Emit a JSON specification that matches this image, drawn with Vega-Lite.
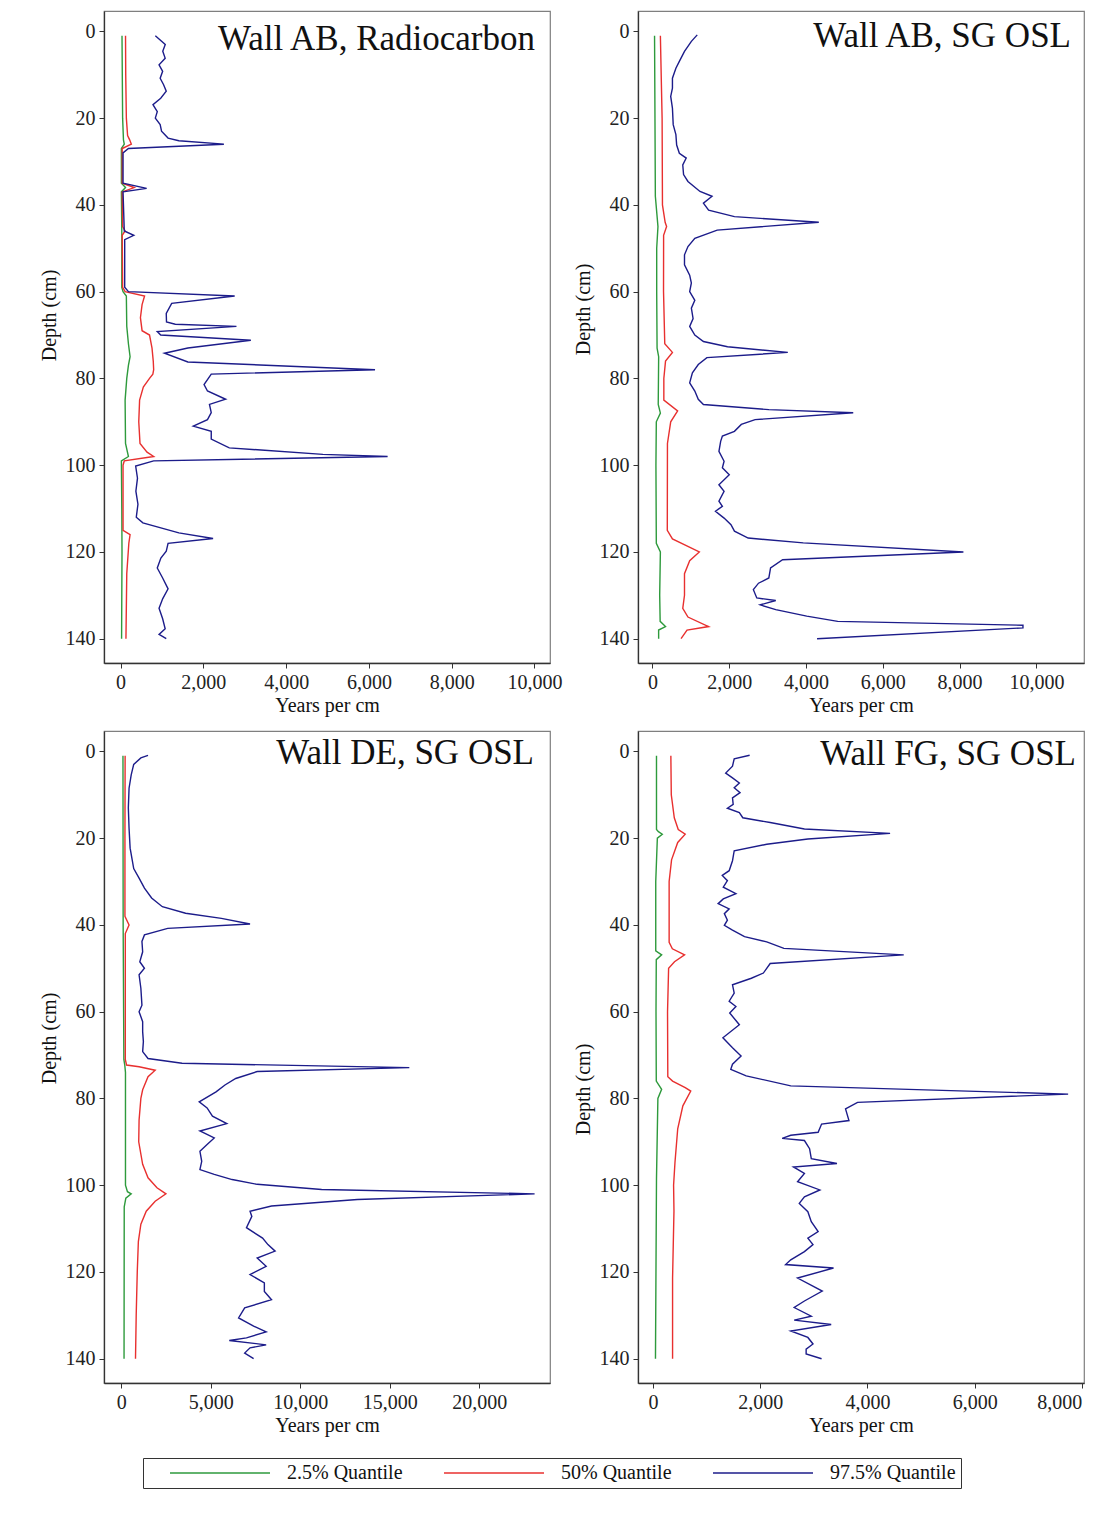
{
  "$schema": "https://vega.github.io/schema/vega-lite/v6.json",
  "background": "white",
  "padding": {"left": 38, "top": 10, "right": 5, "bottom": 5},
  "datasets": {
    "p1": [
      {"q":"2.5%","d":1,"v":35},{"q":"2.5%","d":20,"v":50},{"q":"2.5%","d":25,"v":70},{"q":"2.5%","d":26,"v":90},{"q":"2.5%","d":27,"v":20},{"q":"2.5%","d":35,"v":20},{"q":"2.5%","d":36,"v":120},{"q":"2.5%","d":37,"v":20},{"q":"2.5%","d":46,"v":30},{"q":"2.5%","d":59,"v":30},{"q":"2.5%","d":60,"v":60},{"q":"2.5%","d":61,"v":140},{"q":"2.5%","d":68,"v":150},{"q":"2.5%","d":72,"v":190},{"q":"2.5%","d":75,"v":230},{"q":"2.5%","d":77,"v":190},{"q":"2.5%","d":80,"v":150},{"q":"2.5%","d":85,"v":110},{"q":"2.5%","d":95,"v":120},{"q":"2.5%","d":98,"v":190},{"q":"2.5%","d":99,"v":20},{"q":"2.5%","d":110,"v":30},{"q":"2.5%","d":120,"v":35},{"q":"2.5%","d":140,"v":25},
      {"q":"50%","d":1,"v":120},{"q":"50%","d":10,"v":125},{"q":"50%","d":20,"v":140},{"q":"50%","d":24,"v":170},{"q":"50%","d":25,"v":220},{"q":"50%","d":26,"v":260},{"q":"50%","d":27,"v":40},{"q":"50%","d":35,"v":40},{"q":"50%","d":36,"v":330},{"q":"50%","d":37,"v":40},{"q":"50%","d":45,"v":50},{"q":"50%","d":46,"v":110},{"q":"50%","d":47,"v":40},{"q":"50%","d":59,"v":50},{"q":"50%","d":60,"v":110},{"q":"50%","d":61,"v":580},{"q":"50%","d":63,"v":520},{"q":"50%","d":66,"v":480},{"q":"50%","d":69,"v":520},{"q":"50%","d":70,"v":700},{"q":"50%","d":73,"v":760},{"q":"50%","d":76,"v":790},{"q":"50%","d":78,"v":800},{"q":"50%","d":79,"v":780},{"q":"50%","d":80,"v":700},{"q":"50%","d":82,"v":550},{"q":"50%","d":85,"v":460},{"q":"50%","d":90,"v":440},{"q":"50%","d":95,"v":470},{"q":"50%","d":97,"v":640},{"q":"50%","d":98,"v":800},{"q":"50%","d":99,"v":90},{"q":"50%","d":100,"v":60},{"q":"50%","d":115,"v":60},{"q":"50%","d":116,"v":230},{"q":"50%","d":118,"v":200},{"q":"50%","d":125,"v":150},{"q":"50%","d":140,"v":130},
      {"q":"97.5%","d":1,"v":840},{"q":"97.5%","d":3,"v":1080},{"q":"97.5%","d":4.6,"v":1020},{"q":"97.5%","d":6.2,"v":1078},{"q":"97.5%","d":7.7,"v":930},{"q":"97.5%","d":9.2,"v":1017},{"q":"97.5%","d":10.8,"v":957},{"q":"97.5%","d":12.3,"v":1040},{"q":"97.5%","d":13.8,"v":1104},{"q":"97.5%","d":15.4,"v":970},{"q":"97.5%","d":16.9,"v":783},{"q":"97.5%","d":18.5,"v":887},{"q":"97.5%","d":20,"v":840},{"q":"97.5%","d":21.5,"v":957},{"q":"97.5%","d":23,"v":990},{"q":"97.5%","d":24.6,"v":1148},{"q":"97.5%","d":25.2,"v":1409},{"q":"97.5%","d":26,"v":2496},{"q":"97.5%","d":27,"v":190},{"q":"97.5%","d":28,"v":60},{"q":"97.5%","d":35,"v":60},{"q":"97.5%","d":36.2,"v":630},{"q":"97.5%","d":37,"v":60},{"q":"97.5%","d":46,"v":90},{"q":"97.5%","d":47,"v":320},{"q":"97.5%","d":48,"v":100},{"q":"97.5%","d":59,"v":100},{"q":"97.5%","d":60,"v":190},{"q":"97.5%","d":61,"v":2757},{"q":"97.5%","d":62.7,"v":1235},{"q":"97.5%","d":65,"v":1104},{"q":"97.5%","d":67,"v":1110},{"q":"97.5%","d":67.5,"v":1322},{"q":"97.5%","d":68,"v":2800},{"q":"97.5%","d":69.2,"v":887},{"q":"97.5%","d":70,"v":970},{"q":"97.5%","d":71.2,"v":3148},{"q":"97.5%","d":73,"v":1626},{"q":"97.5%","d":74.2,"v":1061},{"q":"97.5%","d":76.2,"v":1626},{"q":"97.5%","d":78,"v":6148},{"q":"97.5%","d":79,"v":2191},{"q":"97.5%","d":81.4,"v":2017},{"q":"97.5%","d":82.9,"v":2100},{"q":"97.5%","d":84.8,"v":2539},{"q":"97.5%","d":86,"v":2148},{"q":"97.5%","d":87.9,"v":2191},{"q":"97.5%","d":89.5,"v":2100},{"q":"97.5%","d":91,"v":1757},{"q":"97.5%","d":92.2,"v":2191},{"q":"97.5%","d":94,"v":2191},{"q":"97.5%","d":96,"v":2626},{"q":"97.5%","d":97.5,"v":4887},{"q":"97.5%","d":98,"v":6452},{"q":"97.5%","d":99,"v":800},{"q":"97.5%","d":100.2,"v":365},{"q":"97.5%","d":103,"v":409},{"q":"97.5%","d":106,"v":370},{"q":"97.5%","d":109,"v":420},{"q":"97.5%","d":112,"v":380},{"q":"97.5%","d":113.3,"v":539},{"q":"97.5%","d":115.6,"v":1409},{"q":"97.5%","d":116.9,"v":2235},{"q":"97.5%","d":118,"v":1148},{"q":"97.5%","d":119.8,"v":1104},{"q":"97.5%","d":121.4,"v":974},{"q":"97.5%","d":123.7,"v":887},{"q":"97.5%","d":126,"v":1017},{"q":"97.5%","d":128.5,"v":1148},{"q":"97.5%","d":130.8,"v":1017},{"q":"97.5%","d":133,"v":930},{"q":"97.5%","d":135.4,"v":1017},{"q":"97.5%","d":137.7,"v":1078},{"q":"97.5%","d":139,"v":930},{"q":"97.5%","d":140,"v":1104}
    ],
    "p2": [
      {"q":"2.5%","d":1,"v":54},{"q":"2.5%","d":20,"v":65},{"q":"2.5%","d":38,"v":75},{"q":"2.5%","d":45,"v":143},{"q":"2.5%","d":50,"v":110},{"q":"2.5%","d":60,"v":110},{"q":"2.5%","d":73,"v":120},{"q":"2.5%","d":75,"v":161},{"q":"2.5%","d":86,"v":150},{"q":"2.5%","d":88,"v":206},{"q":"2.5%","d":90,"v":100},{"q":"2.5%","d":100,"v":90},{"q":"2.5%","d":118,"v":100},{"q":"2.5%","d":120,"v":206},{"q":"2.5%","d":130,"v":188},{"q":"2.5%","d":136,"v":200},{"q":"2.5%","d":137.2,"v":340},{"q":"2.5%","d":138,"v":160},{"q":"2.5%","d":140,"v":161},
      {"q":"50%","d":1,"v":206},{"q":"50%","d":20,"v":251},{"q":"50%","d":40,"v":260},{"q":"50%","d":44,"v":330},{"q":"50%","d":45,"v":368},{"q":"50%","d":47,"v":290},{"q":"50%","d":60,"v":288},{"q":"50%","d":72,"v":320},{"q":"50%","d":74,"v":520},{"q":"50%","d":76,"v":340},{"q":"50%","d":80,"v":296},{"q":"50%","d":85,"v":296},{"q":"50%","d":87.5,"v":655},{"q":"50%","d":90,"v":475},{"q":"50%","d":95,"v":390},{"q":"50%","d":115,"v":386},{"q":"50%","d":117,"v":520},{"q":"50%","d":120,"v":1220},{"q":"50%","d":122,"v":969},{"q":"50%","d":125,"v":834},{"q":"50%","d":130,"v":834},{"q":"50%","d":133,"v":789},{"q":"50%","d":135,"v":924},{"q":"50%","d":137.2,"v":1462},{"q":"50%","d":138,"v":900},{"q":"50%","d":140,"v":744},
      {"q":"97.5%","d":0.8,"v":1166},{"q":"97.5%","d":2.3,"v":1013},{"q":"97.5%","d":4.6,"v":834},{"q":"97.5%","d":6.9,"v":700},{"q":"97.5%","d":8.5,"v":610},{"q":"97.5%","d":10.8,"v":520},{"q":"97.5%","d":13.1,"v":520},{"q":"97.5%","d":15,"v":475},{"q":"97.5%","d":17.7,"v":520},{"q":"97.5%","d":21.5,"v":540},{"q":"97.5%","d":23.8,"v":610},{"q":"97.5%","d":26.2,"v":630},{"q":"97.5%","d":28.1,"v":700},{"q":"97.5%","d":29.2,"v":879},{"q":"97.5%","d":30.8,"v":789},{"q":"97.5%","d":33,"v":810},{"q":"97.5%","d":34.6,"v":924},{"q":"97.5%","d":36.9,"v":1238},{"q":"97.5%","d":38,"v":1552},{"q":"97.5%","d":39.6,"v":1327},{"q":"97.5%","d":41.2,"v":1462},{"q":"97.5%","d":42.7,"v":2135},{"q":"97.5%","d":44,"v":4332},{"q":"97.5%","d":45.8,"v":1686},{"q":"97.5%","d":47.7,"v":1103},{"q":"97.5%","d":49.6,"v":924},{"q":"97.5%","d":51.5,"v":834},{"q":"97.5%","d":53.8,"v":834},{"q":"97.5%","d":56.2,"v":969},{"q":"97.5%","d":58,"v":1013},{"q":"97.5%","d":60,"v":969},{"q":"97.5%","d":62,"v":1103},{"q":"97.5%","d":63.8,"v":1013},{"q":"97.5%","d":66.2,"v":1058},{"q":"97.5%","d":68,"v":969},{"q":"97.5%","d":70,"v":1103},{"q":"97.5%","d":71.5,"v":1327},{"q":"97.5%","d":72.7,"v":1955},{"q":"97.5%","d":74,"v":3525},{"q":"97.5%","d":75.2,"v":1417},{"q":"97.5%","d":76.8,"v":1193},{"q":"97.5%","d":78.7,"v":1040},{"q":"97.5%","d":81,"v":969},{"q":"97.5%","d":82.9,"v":1103},{"q":"97.5%","d":84.8,"v":1193},{"q":"97.5%","d":86,"v":1327},{"q":"97.5%","d":87.2,"v":3031},{"q":"97.5%","d":87.9,"v":5229},{"q":"97.5%","d":89.5,"v":2673},{"q":"97.5%","d":90.6,"v":2314},{"q":"97.5%","d":92.2,"v":2135},{"q":"97.5%","d":93.3,"v":1821},{"q":"97.5%","d":94.5,"v":1776},{"q":"97.5%","d":96.8,"v":1731},{"q":"97.5%","d":99.1,"v":1865},{"q":"97.5%","d":100.6,"v":1821},{"q":"97.5%","d":102.2,"v":2000},{"q":"97.5%","d":104.5,"v":1731},{"q":"97.5%","d":106,"v":1865},{"q":"97.5%","d":108.3,"v":1731},{"q":"97.5%","d":109.5,"v":1821},{"q":"97.5%","d":110.6,"v":1641},{"q":"97.5%","d":112.2,"v":1865},{"q":"97.5%","d":113.7,"v":2045},{"q":"97.5%","d":115.2,"v":2135},{"q":"97.5%","d":116.8,"v":2493},{"q":"97.5%","d":117.9,"v":3928},{"q":"97.5%","d":120,"v":8099},{"q":"97.5%","d":121.8,"v":3390},{"q":"97.5%","d":123.7,"v":3076},{"q":"97.5%","d":126,"v":3031},{"q":"97.5%","d":127.2,"v":2762},{"q":"97.5%","d":128.7,"v":2628},{"q":"97.5%","d":130.6,"v":2717},{"q":"97.5%","d":131.2,"v":3211},{"q":"97.5%","d":132.2,"v":2807},{"q":"97.5%","d":133.3,"v":3211},{"q":"97.5%","d":134.8,"v":4018},{"q":"97.5%","d":136,"v":4825},{"q":"97.5%","d":136.9,"v":9650},{"q":"97.5%","d":137.5,"v":9650},{"q":"97.5%","d":140,"v":4287}
    ],
    "p3": [
      {"q":"2.5%","d":1,"v":100},{"q":"2.5%","d":40,"v":110},{"q":"2.5%","d":71,"v":150},{"q":"2.5%","d":72.3,"v":200},{"q":"2.5%","d":74,"v":240},{"q":"2.5%","d":100,"v":240},{"q":"2.5%","d":101.5,"v":350},{"q":"2.5%","d":102,"v":560},{"q":"2.5%","d":103,"v":260},{"q":"2.5%","d":105,"v":170},{"q":"2.5%","d":140,"v":160},
      {"q":"50%","d":1,"v":220},{"q":"50%","d":20,"v":210},{"q":"50%","d":38,"v":210},{"q":"50%","d":40,"v":440},{"q":"50%","d":42,"v":230},{"q":"50%","d":71,"v":230},{"q":"50%","d":72.3,"v":300},{"q":"50%","d":72.7,"v":1000},{"q":"50%","d":73.5,"v":1900},{"q":"50%","d":75,"v":1500},{"q":"50%","d":78,"v":1200},{"q":"50%","d":80,"v":1100},{"q":"50%","d":85,"v":1000},{"q":"50%","d":90,"v":980},{"q":"50%","d":95.2,"v":1200},{"q":"50%","d":98.3,"v":1500},{"q":"50%","d":100.6,"v":2000},{"q":"50%","d":102,"v":2500},{"q":"50%","d":103.7,"v":1900},{"q":"50%","d":106,"v":1400},{"q":"50%","d":109,"v":1100},{"q":"50%","d":113,"v":960},{"q":"50%","d":119.8,"v":900},{"q":"50%","d":129.8,"v":840},{"q":"50%","d":140,"v":800},
      {"q":"97.5%","d":0.9,"v":1500},{"q":"97.5%","d":1.5,"v":1100},{"q":"97.5%","d":3,"v":700},{"q":"97.5%","d":5.4,"v":560},{"q":"97.5%","d":8.5,"v":440},{"q":"97.5%","d":13,"v":400},{"q":"97.5%","d":17.7,"v":440},{"q":"97.5%","d":22.3,"v":500},{"q":"97.5%","d":27,"v":700},{"q":"97.5%","d":29.2,"v":1000},{"q":"97.5%","d":31.5,"v":1300},{"q":"97.5%","d":33.8,"v":1700},{"q":"97.5%","d":35.8,"v":2300},{"q":"97.5%","d":37.3,"v":3600},{"q":"97.5%","d":38.5,"v":5600},{"q":"97.5%","d":39.8,"v":7200},{"q":"97.5%","d":40.8,"v":2600},{"q":"97.5%","d":42.3,"v":1300},{"q":"97.5%","d":43.8,"v":1160},{"q":"97.5%","d":46.2,"v":1200},{"q":"97.5%","d":48.5,"v":1040},{"q":"97.5%","d":50,"v":1300},{"q":"97.5%","d":51.5,"v":1000},{"q":"97.5%","d":54.6,"v":1100},{"q":"97.5%","d":58.5,"v":1160},{"q":"97.5%","d":60,"v":1000},{"q":"97.5%","d":62.3,"v":1200},{"q":"97.5%","d":64.6,"v":1200},{"q":"97.5%","d":66.9,"v":1240},{"q":"97.5%","d":69.2,"v":1200},{"q":"97.5%","d":70.8,"v":1500},{"q":"97.5%","d":71.9,"v":3400},{"q":"97.5%","d":72.9,"v":16100},{"q":"97.5%","d":73.8,"v":7600},{"q":"97.5%","d":75.4,"v":6400},{"q":"97.5%","d":76.9,"v":5800},{"q":"97.5%","d":78.5,"v":5300},{"q":"97.5%","d":80.8,"v":4360},{"q":"97.5%","d":82.2,"v":4800},{"q":"97.5%","d":84.1,"v":5100},{"q":"97.5%","d":85.8,"v":5900},{"q":"97.5%","d":87.5,"v":4400},{"q":"97.5%","d":89.1,"v":5200},{"q":"97.5%","d":90.6,"v":4800},{"q":"97.5%","d":92.2,"v":4400},{"q":"97.5%","d":94.5,"v":4500},{"q":"97.5%","d":96.4,"v":4400},{"q":"97.5%","d":97.5,"v":5200},{"q":"97.5%","d":98.7,"v":6200},{"q":"97.5%","d":99.8,"v":7600},{"q":"97.5%","d":101,"v":11200},{"q":"97.5%","d":102,"v":23100},{"q":"97.5%","d":103.3,"v":13200},{"q":"97.5%","d":104.8,"v":8400},{"q":"97.5%","d":106,"v":7200},{"q":"97.5%","d":107.2,"v":7300},{"q":"97.5%","d":109.8,"v":7000},{"q":"97.5%","d":112.2,"v":7900},{"q":"97.5%","d":113.7,"v":8200},{"q":"97.5%","d":115.2,"v":8600},{"q":"97.5%","d":116.8,"v":7600},{"q":"97.5%","d":118.7,"v":8100},{"q":"97.5%","d":120.6,"v":7200},{"q":"97.5%","d":122.5,"v":8000},{"q":"97.5%","d":124.5,"v":8000},{"q":"97.5%","d":126.4,"v":8400},{"q":"97.5%","d":128.3,"v":6900},{"q":"97.5%","d":130.6,"v":6560},{"q":"97.5%","d":132.5,"v":7400},{"q":"97.5%","d":133.8,"v":8100},{"q":"97.5%","d":135.2,"v":7000},{"q":"97.5%","d":135.8,"v":6040},{"q":"97.5%","d":136.8,"v":8100},{"q":"97.5%","d":137.5,"v":7200},{"q":"97.5%","d":138.7,"v":6900},{"q":"97.5%","d":140,"v":7400}
    ],
    "p4": [
      {"q":"2.5%","d":1,"v":64},{"q":"2.5%","d":18,"v":64},{"q":"2.5%","d":18.5,"v":100},{"q":"2.5%","d":19.1,"v":172},{"q":"2.5%","d":20,"v":80},{"q":"2.5%","d":30,"v":50},{"q":"2.5%","d":46,"v":50},{"q":"2.5%","d":46.9,"v":160},{"q":"2.5%","d":48,"v":60},{"q":"2.5%","d":60,"v":55},{"q":"2.5%","d":76,"v":60},{"q":"2.5%","d":77.9,"v":160},{"q":"2.5%","d":80,"v":90},{"q":"2.5%","d":98.5,"v":64},{"q":"2.5%","d":140,"v":45},
      {"q":"50%","d":1,"v":332},{"q":"50%","d":10,"v":340},{"q":"50%","d":15.3,"v":396},{"q":"50%","d":18,"v":470},{"q":"50%","d":19.1,"v":600},{"q":"50%","d":21,"v":460},{"q":"50%","d":25,"v":345},{"q":"50%","d":30,"v":300},{"q":"50%","d":44,"v":300},{"q":"50%","d":45.5,"v":360},{"q":"50%","d":46.9,"v":588},{"q":"50%","d":48.5,"v":400},{"q":"50%","d":50,"v":290},{"q":"50%","d":60,"v":270},{"q":"50%","d":75,"v":275},{"q":"50%","d":76,"v":364},{"q":"50%","d":77.5,"v":600},{"q":"50%","d":78.3,"v":703},{"q":"50%","d":80.2,"v":620},{"q":"50%","d":81.7,"v":556},{"q":"50%","d":87,"v":460},{"q":"50%","d":94.7,"v":409},{"q":"50%","d":100,"v":383},{"q":"50%","d":106,"v":390},{"q":"50%","d":121.4,"v":364},{"q":"50%","d":140,"v":364},
      {"q":"97.5%","d":0.9,"v":1802},{"q":"97.5%","d":1.7,"v":1514},{"q":"97.5%","d":3.4,"v":1482},{"q":"97.5%","d":5,"v":1355},{"q":"97.5%","d":6.1,"v":1482},{"q":"97.5%","d":7.3,"v":1610},{"q":"97.5%","d":8.4,"v":1514},{"q":"97.5%","d":9.5,"v":1623},{"q":"97.5%","d":10.7,"v":1482},{"q":"97.5%","d":12.2,"v":1495},{"q":"97.5%","d":13.1,"v":1387},{"q":"97.5%","d":14.1,"v":1610},{"q":"97.5%","d":15.3,"v":1674},{"q":"97.5%","d":16.4,"v":2185},{"q":"97.5%","d":17.9,"v":2824},{"q":"97.5%","d":18.9,"v":4422},{"q":"97.5%","d":20.2,"v":2888},{"q":"97.5%","d":21.4,"v":2121},{"q":"97.5%","d":22.9,"v":1514},{"q":"97.5%","d":25.2,"v":1482},{"q":"97.5%","d":27.5,"v":1420},{"q":"97.5%","d":28.6,"v":1291},{"q":"97.5%","d":29.8,"v":1387},{"q":"97.5%","d":31.3,"v":1310},{"q":"97.5%","d":32.8,"v":1546},{"q":"97.5%","d":34,"v":1310},{"q":"97.5%","d":35.1,"v":1214},{"q":"97.5%","d":36.3,"v":1420},{"q":"97.5%","d":37.4,"v":1330},{"q":"97.5%","d":38.9,"v":1387},{"q":"97.5%","d":40.1,"v":1330},{"q":"97.5%","d":41.2,"v":1482},{"q":"97.5%","d":42.7,"v":1706},{"q":"97.5%","d":43.9,"v":2121},{"q":"97.5%","d":45.4,"v":2441},{"q":"97.5%","d":46.9,"v":4677},{"q":"97.5%","d":48.9,"v":2185},{"q":"97.5%","d":51.1,"v":2058},{"q":"97.5%","d":52.3,"v":1834},{"q":"97.5%","d":53.8,"v":1482},{"q":"97.5%","d":55.7,"v":1514},{"q":"97.5%","d":57.6,"v":1420},{"q":"97.5%","d":58.8,"v":1546},{"q":"97.5%","d":60.3,"v":1430},{"q":"97.5%","d":63,"v":1610},{"q":"97.5%","d":66,"v":1303},{"q":"97.5%","d":68.3,"v":1482},{"q":"97.5%","d":70.2,"v":1642},{"q":"97.5%","d":72.1,"v":1482},{"q":"97.5%","d":73.3,"v":1450},{"q":"97.5%","d":74.8,"v":1738},{"q":"97.5%","d":77.1,"v":2569},{"q":"97.5%","d":79,"v":7744},{"q":"97.5%","d":80.9,"v":3815},{"q":"97.5%","d":82.4,"v":3591},{"q":"97.5%","d":85.1,"v":3655},{"q":"97.5%","d":85.9,"v":3144},{"q":"97.5%","d":87.8,"v":3080},{"q":"97.5%","d":88.5,"v":2569},{"q":"97.5%","d":89.2,"v":2409},{"q":"97.5%","d":89.7,"v":2824},{"q":"97.5%","d":91.6,"v":2920},{"q":"97.5%","d":93.9,"v":2952},{"q":"97.5%","d":95,"v":3431},{"q":"97.5%","d":95.8,"v":2620},{"q":"97.5%","d":97.3,"v":2824},{"q":"97.5%","d":99.2,"v":2696},{"q":"97.5%","d":101.1,"v":3112},{"q":"97.5%","d":102.7,"v":2824},{"q":"97.5%","d":104.2,"v":2728},{"q":"97.5%","d":106.1,"v":2888},{"q":"97.5%","d":108.4,"v":2952},{"q":"97.5%","d":110.7,"v":3080},{"q":"97.5%","d":112.2,"v":2888},{"q":"97.5%","d":113.7,"v":2984},{"q":"97.5%","d":115.3,"v":2824},{"q":"97.5%","d":117.2,"v":2569},{"q":"97.5%","d":118.3,"v":2473},{"q":"97.5%","d":119.1,"v":3367},{"q":"97.5%","d":121.4,"v":2696},{"q":"97.5%","d":124.4,"v":3157},{"q":"97.5%","d":126.7,"v":2824},{"q":"97.5%","d":128.2,"v":2633},{"q":"97.5%","d":130.2,"v":2952},{"q":"97.5%","d":131.1,"v":2633},{"q":"97.5%","d":132.1,"v":3323},{"q":"97.5%","d":133.6,"v":2569},{"q":"97.5%","d":135.1,"v":2888},{"q":"97.5%","d":136.6,"v":2984},{"q":"97.5%","d":137.8,"v":2856},{"q":"97.5%","d":138.9,"v":2856},{"q":"97.5%","d":140,"v":3144}
    ]
  },
  "columns": 2,
  "spacing": {"row": 68, "column": 88},
  "bounds": "flush",
  "resolve": {"scale": {"color": "shared"}, "legend": {"color": "shared"}},
  "concat": [
    {
      "width": 446, "height": 652,
      "title": {"text": "Wall AB, Radiocarbon", "anchor": "end", "frame": "group", "offset": -46, "dx": -15},
      "data": {"name": "p1"},
      "mark": {"type": "line", "strokeWidth": 1.4},
      "encoding": {
        "x": {"field": "v", "type": "quantitative", "scale": {"domain": [-400, 10375], "nice": false, "zero": false}, "axis": {"values": [0, 2000, 4000, 6000, 8000, 10000], "format": ",.0f", "title": "Years per cm"}},
        "y": {"field": "d", "type": "quantitative", "scale": {"domain": [-4.7, 145.6], "reverse": true, "nice": false, "zero": false}, "axis": {"values": [0, 20, 40, 60, 80, 100, 120, 140], "title": "Depth (cm)", "titleY": 304}},
        "color": {"field": "q", "type": "nominal", "scale": {"domain": ["2.5%", "50%", "97.5%"], "range": ["#2e9a3c", "#e8302f", "#1c1c8a"]}, "legend": {"orient": "none", "legendX": 39, "legendY": 1447, "labelExpr": "datum.label + ' Quantile'", "labelFont": "Liberation Serif", "labelFontSize": 20, "labelColor": "#111"}},
        "order": {"field": "d", "type": "quantitative"}
      }
    },
    {
      "width": 446, "height": 652,
      "title": {"text": "Wall AB, SG OSL", "anchor": "end", "frame": "group", "offset": -43, "dx": -13},
      "data": {"name": "p2"},
      "mark": {"type": "line", "strokeWidth": 1.4},
      "encoding": {
        "x": {"field": "v", "type": "quantitative", "scale": {"domain": [-377, 11240], "nice": false, "zero": false}, "axis": {"values": [0, 2000, 4000, 6000, 8000, 10000], "format": ",.0f", "title": "Years per cm"}},
        "y": {"field": "d", "type": "quantitative", "scale": {"domain": [-4.7, 145.6], "reverse": true, "nice": false, "zero": false}, "axis": {"values": [0, 20, 40, 60, 80, 100, 120, 140], "title": "Depth (cm)", "titleY": 298}},
        "color": {"field": "q", "type": "nominal", "scale": {"domain": ["2.5%", "50%", "97.5%"], "range": ["#2e9a3c", "#e8302f", "#1c1c8a"]}, "legend": {"orient": "none", "legendX": 39, "legendY": 1447, "labelExpr": "datum.label + ' Quantile'", "labelFont": "Liberation Serif", "labelFontSize": 20, "labelColor": "#111"}},
        "order": {"field": "d", "type": "quantitative"}
      }
    },
    {
      "width": 446, "height": 652,
      "title": {"text": "Wall DE, SG OSL", "anchor": "end", "frame": "group", "offset": -40, "dx": -16},
      "data": {"name": "p3"},
      "mark": {"type": "line", "strokeWidth": 1.4},
      "encoding": {
        "x": {"field": "v", "type": "quantitative", "scale": {"domain": [-960, 23960], "nice": false, "zero": false}, "axis": {"values": [0, 5000, 10000, 15000, 20000], "format": ",.0f", "title": "Years per cm"}},
        "y": {"field": "d", "type": "quantitative", "scale": {"domain": [-4.7, 145.6], "reverse": true, "nice": false, "zero": false}, "axis": {"values": [0, 20, 40, 60, 80, 100, 120, 140], "title": "Depth (cm)", "titleY": 307}},
        "color": {"field": "q", "type": "nominal", "scale": {"domain": ["2.5%", "50%", "97.5%"], "range": ["#2e9a3c", "#e8302f", "#1c1c8a"]}, "legend": {"orient": "none", "legendX": 39, "legendY": 1447, "labelExpr": "datum.label + ' Quantile'", "labelFont": "Liberation Serif", "labelFontSize": 20, "labelColor": "#111"}},
        "order": {"field": "d", "type": "quantitative"}
      }
    },
    {
      "width": 446, "height": 652,
      "title": {"text": "Wall FG, SG OSL", "anchor": "end", "frame": "group", "offset": -41, "dx": -8},
      "data": {"name": "p4"},
      "mark": {"type": "line", "strokeWidth": 1.4},
      "encoding": {
        "x": {"field": "v", "type": "quantitative", "scale": {"domain": [-281, 8040], "nice": false, "zero": false}, "axis": {"values": [0, 2000, 4000, 6000, 8000], "format": ",.0f", "title": "Years per cm", "labelFlush": 5}},
        "y": {"field": "d", "type": "quantitative", "scale": {"domain": [-4.7, 145.6], "reverse": true, "nice": false, "zero": false}, "axis": {"values": [0, 20, 40, 60, 80, 100, 120, 140], "title": "Depth (cm)", "titleY": 358}},
        "color": {"field": "q", "type": "nominal", "scale": {"domain": ["2.5%", "50%", "97.5%"], "range": ["#2e9a3c", "#e8302f", "#1c1c8a"]}, "legend": {"orient": "none", "legendX": 39, "legendY": 1447, "labelExpr": "datum.label + ' Quantile'", "labelFont": "Liberation Serif", "labelFontSize": 20, "labelColor": "#111"}},
        "order": {"field": "d", "type": "quantitative"}
      }
    }
  ],
  "config": {
    "font": "Liberation Serif",
    "view": {"stroke": "#7f7f7f", "strokeWidth": 1.2},
    "title": {"font": "Liberation Serif", "fontSize": 35, "fontWeight": "normal", "color": "#111", "baseline": "alphabetic", "orient": "top"},
    "axis": {"grid": false, "labelFont": "Liberation Serif", "labelFontSize": 20, "labelColor": "#222", "titleFont": "Liberation Serif", "titleFontSize": 20, "titleFontWeight": "normal", "titleColor": "#111", "domainColor": "#333", "domainWidth": 1.3, "tickColor": "#333", "tickSize": 5, "labelPadding": 4, "labelFlush": false, "labelOverlap": false},
    "axisX": {"titlePadding": 3},
    "axisY": {"titleX": -45},
    "legend": {"direction": "horizontal", "title": null, "symbolType": "stroke", "symbolSize": 10000, "symbolStrokeWidth": 1.5, "clipHeight": 20, "labelFont": "Liberation Serif", "labelFontSize": 20, "labelColor": "#111", "labelOffset": 16, "symbolOffset": 21, "columnPadding": 19, "padding": 5, "strokeColor": "#333", "fillColor": "white", "labelLimit": 300}
  }
}
